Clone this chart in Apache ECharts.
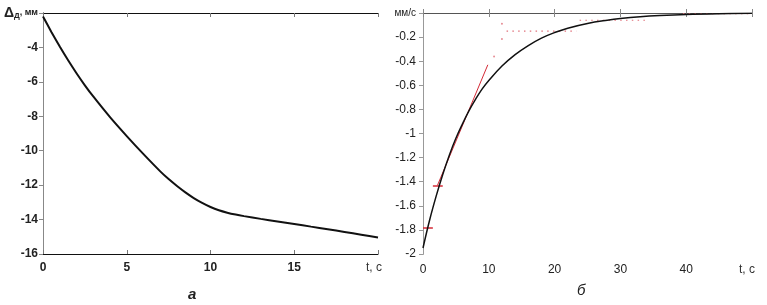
<!DOCTYPE html>
<html><head><meta charset="utf-8">
<script src="https://cdn.jsdelivr.net/npm/echarts@6/dist/echarts.min.js"></script>
<style>html,body{margin:0;padding:0;background:#fff}#c{width:767px;height:305px}</style>
</head><body><div id="c"></div>
<script>
// Left panel (а): displacement vs time
const leftT = [0, 0.5, 1, 1.5, 2, 2.5, 3, 4, 5, 6, 7, 7.5, 8, 8.5, 9, 9.5, 10, 10.5, 11, 11.5, 12, 13, 14, 15, 16, 17, 18, 19, 20];
const leftD = [-2.2, -3.1, -3.95, -4.75, -5.5, -6.2, -6.85, -8.05, -9.15, -10.2, -11.2, -11.65, -12.05, -12.42, -12.75, -13.03, -13.27, -13.46, -13.6, -13.71, -13.8, -13.96, -14.11, -14.26, -14.41, -14.56, -14.72, -14.88, -15.04];
// Right panel (б): velocity vs time
const rightT = [0, 1, 2, 3, 4, 5, 6, 7, 8, 9, 10, 12, 14, 16, 18, 20, 22, 25, 28, 30, 33, 36, 40, 45, 50];
const rightV = [-1.95, -1.72, -1.52, -1.34, -1.18, -1.04, -0.92, -0.81, -0.715, -0.63, -0.56, -0.44, -0.345, -0.27, -0.208, -0.162, -0.126, -0.087, -0.06, -0.046, -0.031, -0.021, -0.012, -0.006, -0.003];
// red tangent line
const tangentT = [2.2, 9.85];
const tangentV = [-1.43, -0.43];
// red horizontal bars
const bar1T = [0, 1.5];   const bar1V = [-1.785, -1.785];
const bar2T = [1.5, 3.0]; const bar2V = [-1.435, -1.435];
// red dotted levels
const dot1T = [12.7, 23.3]; const dot1V = [-0.15, -0.15];
const dot2T = [23.8, 34];   const dot2V = [-0.06, -0.06];
const dot3T = [39.5, 49.5]; const dot3V = [-0.006, -0.006];
const isoT = [10.8, 12, 12];
const isoV = [-0.36, -0.216, -0.09];

const pairs = (a, b) => a.map((v, i) => [v, b[i]]);

const red = '#d42a36';
const pink = '#e0707a';
const leftLbl = {fontFamily: 'Liberation Sans', fontWeight: 'bold', fontSize: 12, color: '#222'};
const rightLbl = {fontFamily: 'Liberation Sans', fontSize: 12, color: '#222'};

const chart = echarts.init(document.getElementById('c'), null, {renderer: 'canvas'});
chart.setOption({
  animation: false,
  backgroundColor: '#fff',
  grid: [
    {left: 43, top: 13, width: 335, height: 241},
    {left: 423, top: 13, width: 329, height: 241}
  ],
  xAxis: [
    {type: 'value', gridIndex: 0, min: 0, max: 20, interval: 5, position: 'bottom',
     axisLine: {lineStyle: {color: '#111', width: 1}}, splitLine: {show: false},
     axisTick: {inside: true, length: 4, lineStyle: {color: '#777'}},
     axisLabel: Object.assign({margin: 8, formatter: v => v === 20 ? '{t|t, c}' : String(v),
       rich: {t: {fontFamily: 'Liberation Sans', fontWeight: 'normal', fontSize: 12, color: '#333', padding: [0, 8, 0, 0]}}}, leftLbl)},
    {type: 'value', gridIndex: 0, min: 0, max: 20, interval: 5, position: 'top',
     axisLine: {lineStyle: {color: '#111', width: 1}}, splitLine: {show: false},
     axisTick: {inside: true, length: 4, lineStyle: {color: '#777'}}, axisLabel: {show: false}},
    {type: 'value', gridIndex: 1, min: 0, max: 50, interval: 10, position: 'bottom',
     axisLine: {lineStyle: {color: '#555', width: 1}}, splitLine: {show: false},
     axisTick: {inside: true, length: 4, lineStyle: {color: '#888'}},
     axisLabel: Object.assign({margin: 10, formatter: v => v === 50 ? '{t|t, c}' : String(v),
       rich: {t: {fontFamily: 'Liberation Sans', fontSize: 12, color: '#333', padding: [0, 10, 0, 0]}}}, rightLbl)},
    {type: 'value', gridIndex: 1, min: 0, max: 50, interval: 10, position: 'top',
     axisLine: {lineStyle: {color: '#555', width: 1}}, splitLine: {show: false},
     axisTick: {inside: true, length: 4, lineStyle: {color: '#888'}}, axisLabel: {show: false}}
  ],
  yAxis: [
    {type: 'value', gridIndex: 0, min: -16, max: -2, interval: 2, position: 'left',
     axisLine: {show: true, lineStyle: {color: '#111', width: 1}}, splitLine: {show: false},
     axisTick: {show: true, length: 3, lineStyle: {color: '#777'}},
     axisLabel: Object.assign({margin: 5,
       formatter: v => v === -2 ? '{d|Δ}{s|Д}{m|, мм}' : String(v),
       rich: {d: {fontSize: 14, fontWeight: 'bold', fontFamily: 'Liberation Sans', color: '#222'},
              s: {fontSize: 8, fontWeight: 'bold', fontFamily: 'Liberation Sans', color: '#222', verticalAlign: 'bottom', padding: [6, 0, 0, 0]},
              m: {fontSize: 9, fontWeight: 'bold', fontFamily: 'Liberation Sans', color: '#222'}}}, leftLbl)},
    {type: 'value', gridIndex: 0, min: -16, max: -2, interval: 2, position: 'right',
     axisLine: {show: true, lineStyle: {color: '#888', width: 1}}, splitLine: {show: false},
     axisTick: {show: true, inside: true, length: 4, lineStyle: {color: '#888'}}, axisLabel: {show: false}},
    {type: 'value', gridIndex: 1, min: -2, max: 0, interval: 0.2, position: 'left',
     axisLine: {show: true, lineStyle: {color: '#555', width: 1}}, splitLine: {show: false},
     axisTick: {show: true, length: 3, lineStyle: {color: '#888'}},
     axisLabel: Object.assign({margin: 7,
       formatter: v => Math.abs(v) < 1e-9 ? '{u|мм/с}' : String(Math.round(v * 10) / 10),
       rich: {u: {fontSize: 10, fontFamily: 'Liberation Sans', color: '#222'}}}, rightLbl)},
    {type: 'value', gridIndex: 1, min: -2, max: 0, interval: 0.2, position: 'right',
     axisLine: {show: true, lineStyle: {color: '#999', width: 1}}, splitLine: {show: false},
     axisTick: {show: true, inside: true, length: 4, lineStyle: {color: '#999'}}, axisLabel: {show: false}}
  ],
  series: [
    {type: 'line', xAxisIndex: 0, yAxisIndex: 0, data: pairs(leftT, leftD), smooth: 0.2, showSymbol: false,
     lineStyle: {color: '#111', width: 2}, z: 5},
    {type: 'line', xAxisIndex: 2, yAxisIndex: 2, data: pairs(tangentT, tangentV), showSymbol: false,
     lineStyle: {color: red, width: 1}, z: 4},
    {type: 'line', xAxisIndex: 2, yAxisIndex: 2, data: pairs(bar1T, bar1V), showSymbol: false,
     lineStyle: {color: red, width: 1.5}, z: 4},
    {type: 'line', xAxisIndex: 2, yAxisIndex: 2, data: pairs(bar2T, bar2V), showSymbol: false,
     lineStyle: {color: red, width: 1.5}, z: 4},
    {type: 'line', xAxisIndex: 2, yAxisIndex: 2, data: pairs(dot1T, dot1V), showSymbol: false,
     lineStyle: {color: pink, width: 1.2, type: [1.5, 4.3]}, z: 3},
    {type: 'line', xAxisIndex: 2, yAxisIndex: 2, data: pairs(dot2T, dot2V), showSymbol: false,
     lineStyle: {color: pink, width: 1.2, type: [1.5, 4.3]}, z: 3},
    {type: 'line', xAxisIndex: 2, yAxisIndex: 2, data: pairs(dot3T, dot3V), showSymbol: false,
     lineStyle: {color: pink, width: 1.2, type: [1.5, 4.3]}, z: 3},
    {type: 'scatter', xAxisIndex: 2, yAxisIndex: 2, data: pairs(isoT, isoV), symbolSize: 2,
     itemStyle: {color: pink}, z: 3},
    {type: 'line', xAxisIndex: 2, yAxisIndex: 2, data: pairs(rightT, rightV), smooth: 0.4, showSymbol: false,
     lineStyle: {color: '#111', width: 1.5}, z: 5}
  ],
  graphic: [
    {type: 'text', left: 188, top: 287, style: {text: 'а', font: 'italic bold 15px "Liberation Sans"', fill: '#222'}},
    {type: 'text', left: 577, top: 283, style: {text: 'б', font: 'italic 15px "Liberation Sans"', fill: '#222'}}
  ]
});
</script></body></html>
